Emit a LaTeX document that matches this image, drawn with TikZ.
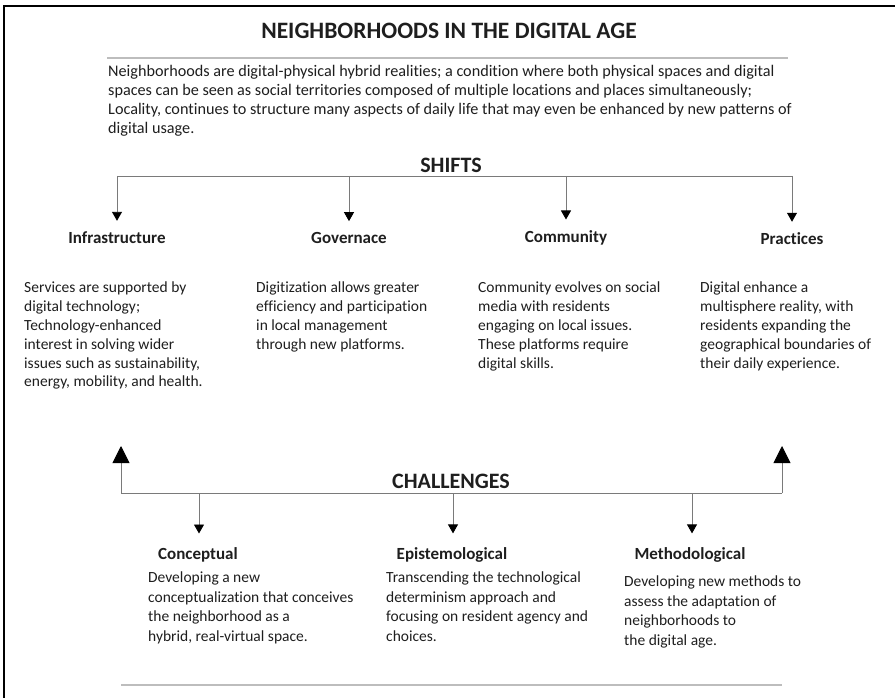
\documentclass[tikz,border=0pt]{standalone}
\usepackage{fontspec}
\setmainfont[Ligatures=CommonOff]{Carlito}
\usetikzlibrary{arrows.meta}
\definecolor{ink}{HTML}{1E1E1E}
\definecolor{wire}{HTML}{7A7A7A}
\definecolor{rule}{HTML}{BDBDBD}
\begin{document}
\begin{tikzpicture}[x=1pt,y=-1pt,
  every node/.style={text=ink, inner sep=0pt},
  maintitle/.style={font=\fontsize{23.5}{27}\selectfont\bfseries},
  sectitle/.style={font=\fontsize{22}{26}\selectfont\bfseries},
  heading/.style={font=\fontsize{17}{20}\selectfont\bfseries},
  bodytext/.style={font=\fontsize{15.5}{18.8}\selectfont, align=left, anchor=north west},
  lowtext/.style={font=\fontsize{15.5}{19.5}\selectfont, align=left, anchor=north west},
  introtext/.style={font=\fontsize{16.2}{19}\selectfont, align=left, anchor=north west},
  wireline/.style={draw=wire, line width=0.9pt},
  smallarrow/.style={wireline, -{Triangle[width=10pt,length=9pt,color=black]}},
  bigarrow/.style={wireline, -{Triangle[width=17pt,length=17pt,color=black]}},
  ruleline/.style={draw=rule, line width=1.8pt}
]
\useasboundingbox (0,0) rectangle (895,698);
% outer frame (top and left edges)
\draw[black, line width=1.6pt] (895,6) -- (4,6) -- (4,698);

% title block
\node[maintitle] (title) at (449,31) {NEIGHBORHOODS IN THE DIGITAL AGE};
\draw[ruleline] (107,58) -- (788,58);
\node[introtext] (intro) at (108,65) {Neighborhoods are digital-physical hybrid realities; a condition where both physical spaces and digital\\
spaces can be seen as social territories composed of multiple locations and places simultaneously;\\
Locality, continues to structure many aspects of daily life that may even be enhanced by new patterns of\\
digital usage.};

% shifts
\node[sectitle] (shifts) at (451,165) {SHIFTS};
\coordinate (sA) at (117,176);
\coordinate (sB) at (349,176);
\coordinate (sC) at (566,176);
\coordinate (sD) at (792,176);
\draw[wireline] (sA) -- (sD);

\node[heading] (infra) at (117,238) {Infrastructure};
\node[heading] (gov) at (349,238) {Governace};
\node[heading] (comm) at (566,238) {Community};
\node[heading] (prac) at (792,239) {Practices};

\foreach \s/\h in {sA/infra, sB/gov, sC/comm, sD/prac}
  \draw[smallarrow, shorten >=11pt] (\s) -- (\s |- \h.north);

\node[bodytext] (infratxt) at (24,282) {Services are supported by\\
digital technology;\\
Technology-enhanced\\
interest in solving wider\\
issues such as sustainability,\\
energy, mobility, and health.};
\node[bodytext] (govtxt) at (256,282) {Digitization allows greater\\
efficiency and participation\\
in local management\\
through new platforms.};
\node[bodytext] (commtxt) at (478,282) {Community evolves on social\\
media with residents\\
engaging on local issues.\\
These platforms require\\
digital skills.};
\node[bodytext] (practxt) at (700,282) {Digital enhance a\\
multisphere reality, with\\
residents expanding the\\
geographical boundaries of\\
their daily experience.};

% challenges
\node[sectitle] (chall) at (451,481) {CHALLENGES};
\coordinate (cL) at (121,493);
\coordinate (cR) at (782,493);
\coordinate (cA) at (199,493);
\coordinate (cB) at (453,493);
\coordinate (cC) at (692,493);
\coordinate (upL) at (121,446);
\coordinate (upR) at (782,446);
\draw[wireline] (cL) -- (cR);
\draw[bigarrow] (cL) -- (upL);
\draw[bigarrow] (cR) -- (upR);

\node[heading] (concept) at (198,555) {Conceptual};
\node[heading] (episte) at (452,555) {Epistemological};
\node[heading] (method) at (690,555) {Methodological};

\foreach \s/\h in {cA/concept, cB/episte, cC/method}
  \draw[smallarrow, shorten >=14pt] (\s) -- (\s |- \h.north);

\node[lowtext] (concepttxt) at (148,572) {Developing a new\\
conceptualization that conceives\\
the neighborhood as a\\
hybrid, real-virtual space.};
\node[lowtext] (epistetxt) at (386,572) {Transcending the technological\\
determinism approach and\\
focusing on resident agency and\\
choices.};
\node[lowtext] (methodtxt) at (624,576) {Developing new methods to\\
assess the adaptation of\\
neighborhoods to\\
the digital age.};

\draw[ruleline] (121,685) -- (782,685);
\end{tikzpicture}
\end{document}
